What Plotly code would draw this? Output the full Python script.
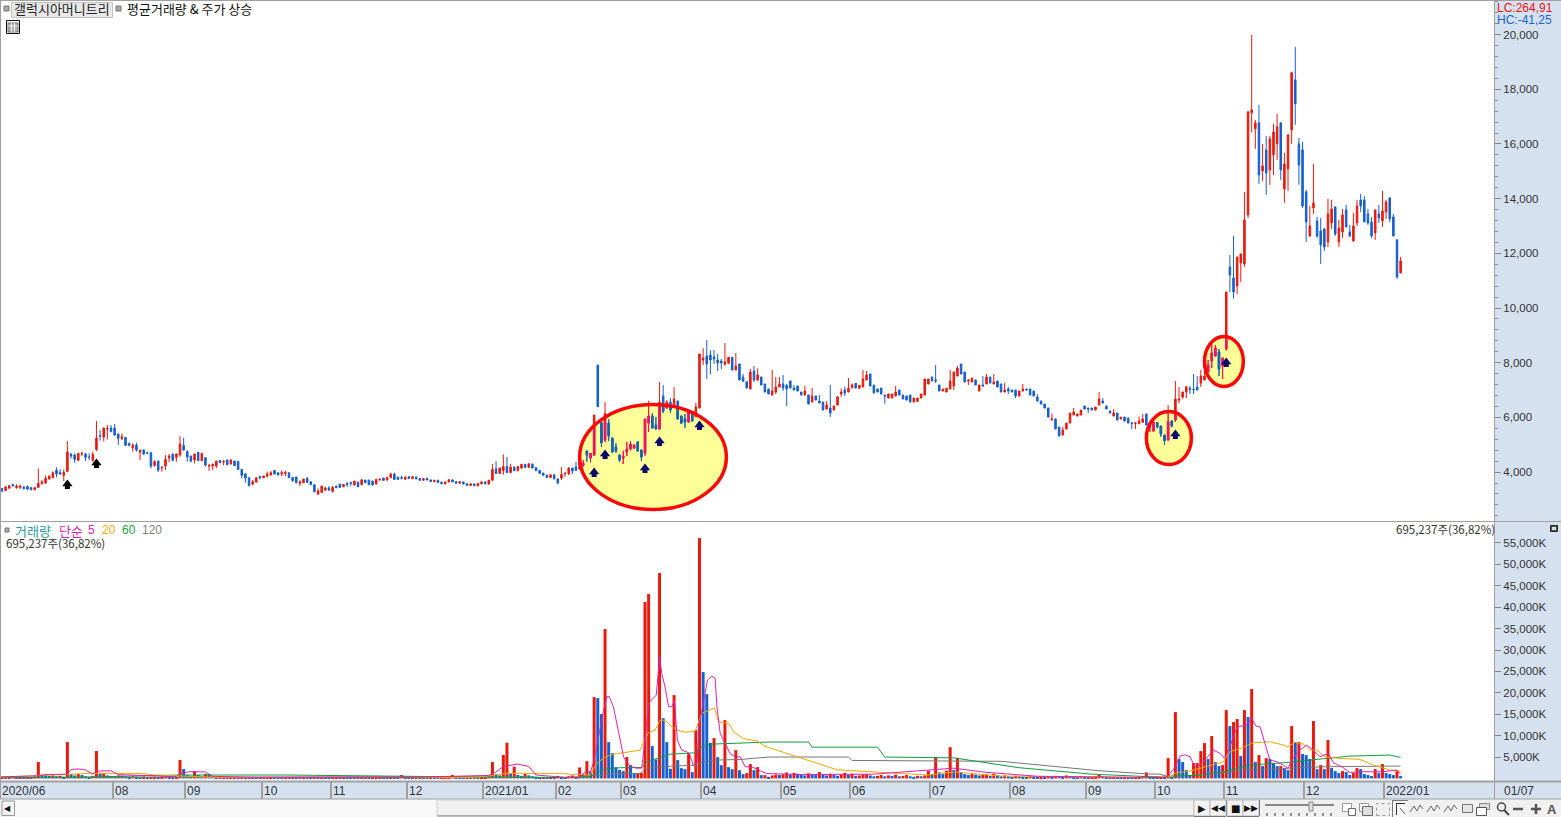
import math
import plotly.graph_objects as go

opens = [3400,3320,3415,3550,3430,3440,3460,3475,3430,3350,
3440,3585,3597,3744,3792,4073,3988,3878,4024,4659,
4622,4427,4659,4659,4549,4427,4829,5330,5281,5574,
5610,5610,5391,5220,5269,5049,4878,4988,4732,4805,
4707,4707,4244,4402,4146,4231,4512,4659,4537,4622,
4976,4744,4585,4439,4720,4415,4524,4219,4219,4219,
4427,4366,4439,4293,4402,4390,4097,3939,3792,3560,
3634,3841,3792,3853,3890,4061,3975,3927,3951,3975,
3805,3817,3585,3610,3780,3646,3536,3195,3256,3341,
3414,3292,3487,3560,3463,3585,3610,3524,3634,3536,
3707,3707,3670,3560,3707,3780,3707,3805,3927,3817,
3800,3740,3830,3760,3820,3760,3700,3770,3710,3650,
3700,3630,3570,3640,3710,3650,3590,3640,3570,3510,
3560,3500,3570,3640,3560,3700,4120,3950,4050,4200,
3980,4180,4050,4150,4280,4170,4290,4160,4060,3960,
3890,3800,3900,3750,3780,3940,3939,4146,4183,4110,
4256,4768,4512,4622,7916,5805,5171,5793,5244,4915,
4622,4512,4732,4842,4878,5098,4805,4695,5793,6049,
5720,5574,6781,6342,6562,6415,6598,6049,5940,5830,
6159,6025,6342,8099,8245,8282,8209,8099,8062,7953,
7977,8197,7733,7953,7477,7306,7038,7696,7367,
7477,7221,7038,6818,6928,7111,7221,7184,7330,7074,7147,
6928,6818,6818,6562,6781,6598,6562,6306,6342,6269,
6452,6855,7001,6928,7099,7245,7062,7111,7367,7587,
7184,7038,7074,6818,6708,6708,6781,7001,6818,6781,
6818,6562,6586,6708,6818,7221,7477,7367,7184,6964,
6928,7038,7147,7513,7953,7660,7330,7294,7367,6964,
7184,7221,7477,7221,7330,7221,6928,7038,7001,7001,
6781,6964,7038,7038,6964,6745,6598,6489,6342,5903,
5940,5647,5354,5574,5793,6086,6049,6086,6415,6342,
6342,6269,6452,6598,6415,6232,6049,6159,5940,6013,
5976,5800,5780,5769,5818,6123,5647,5500,5806,5683,
5354,5171,5866,5903,6635,6745,6928,7062,7038,7111,
7257,7367,7660,8062,8245,8392,7879,8502,
11503,11100,10807,11649,11613,13406,17139,16553,16773,15016,15785,15053,
15602,16005,16773,14358,15090,16517,18347,16005,15785,14248,
12637,13662,13186,12820,12894,12418,13113,13699,12418,12784,
13589,12784,12454,13113,13955,13955,13443,13150,12747,13443,
13186,13516,14028,13333,12491,11283]
highs = [3425,3460,3535,3560,3550,3535,3470,3510,3440,3440,
4135,3707,3878,3870,4024,4170,4110,4097,5134,4683,
4683,4690,4744,4707,4683,4744,5866,5537,5620,5720,
5720,5757,5400,5415,5280,5073,5049,5073,4805,4829,
4744,4720,4439,4410,4219,4622,4659,4670,4683,5317,
5256,4805,4600,4683,4730,4683,4535,4293,4317,4402,
4435,4439,4445,4476,4410,4395,4105,3945,3800,3707,
3792,3866,3853,4012,4036,4070,3985,4061,4049,3985,
3815,3825,3707,3744,3790,3655,3545,3402,3487,3463,
3487,3487,3495,3570,3548,3634,3658,3670,3640,3719,
3715,3712,3680,3731,3744,3790,3805,3975,3975,3825,
3870,3830,3840,3860,3830,3790,3770,3790,3730,3710,
3720,3650,3650,3730,3740,3670,3660,3650,3590,3580,
3580,3590,3650,3660,3710,4300,4400,4160,4650,4550,
4300,4200,4220,4300,4300,4320,4310,4180,4080,3980,
3900,3910,3920,3770,4183,4000,4183,4160,4366,4378,
4439,4780,4690,6086,7916,5830,6562,5940,5260,5049,
4630,4780,5098,5134,5025,5134,4815,5940,6611,6147,
6013,7294,7184,6635,6708,7111,6610,6060,6123,6196,
6170,6525,8319,8526,8831,8465,8465,8319,8136,8721,
8197,8205,8355,7960,7587,7315,7770,7879,7794,
7485,7230,7045,7733,7477,7477,7550,7195,7340,7184,7155,
6935,7147,6825,7074,6790,6818,6570,6598,7184,6425,
6781,7062,7123,7440,7240,7255,7180,7733,7696,7595,
7190,7045,7080,6825,6855,6860,7147,7010,6825,6790,
6825,6708,6708,6860,7404,7410,7485,7916,7190,7045,
7070,7733,7665,7879,7960,7665,7375,7445,7375,7190,
7513,7587,7485,7587,7340,7230,7257,7111,7010,7010,
6970,7221,7045,7045,6970,6855,6605,6495,6350,6147,
5950,5655,5659,5793,6159,6342,6123,6269,6425,6350,
6350,6379,6928,6708,6425,6240,6306,6165,6013,6020,
5985,5830,5830,6025,6123,6130,5720,5830,5830,5690,
5360,6452,5900,7330,7111,6928,7123,7147,7587,7513,
7733,7733,8099,8685,8648,8502,8180,10588,
11942,12637,11869,11979,14248,17176,19994,16883,17432,16005,16297,16297,
16737,17103,16780,15675,16334,18640,19555,16224,16078,14321,
13735,15273,13333,13296,12930,13992,13955,13705,13223,13626,
13772,13040,13479,13955,14175,14101,13626,13333,13595,13772,
14284,13955,14035,13443,12528,11869]
lows = [3280,3320,3375,3480,3390,3375,3365,3350,3350,3350,
3415,3535,3585,3730,3780,3805,3900,3670,4000,4488,
4341,4415,4585,4402,4439,4378,4768,5147,5122,5195,
5452,5330,4988,5171,4960,4951,4744,4744,4439,4622,
4659,4134,4195,4000,4012,4073,4366,4402,4378,4561,
4780,4378,4354,4317,4405,4405,4195,4049,4073,4146,
4335,4244,4260,4285,4225,4073,3768,3610,3495,3524,
3625,3731,3785,3805,3885,3920,3885,3853,3853,3768,
3646,3585,3487,3605,3615,3530,3275,3158,3250,3317,
3305,3256,3420,3432,3458,3463,3487,3520,3458,3530,
3605,3530,3520,3555,3700,3690,3683,3768,3707,3725,
3730,3720,3750,3740,3740,3680,3680,3700,3640,3630,
3610,3560,3550,3620,3630,3580,3570,3550,3500,3490,
3490,3480,3560,3550,3540,3680,3930,3930,3900,3960,
3960,4040,4030,4130,4160,4150,4140,4040,3940,3870,
3790,3780,3740,3550,3707,3829,3890,3927,4050,4100,
4195,4378,4354,4600,6391,4927,5098,5134,4720,4707,
4366,4293,4585,4793,4842,4760,4402,4598,5464,5600,
5565,5560,6159,6330,6159,6400,5930,5757,5610,5820,
5860,6015,6330,7916,7404,7587,7953,7696,7770,7879,
7970,7725,7725,7360,7310,7065,7030,7294,7330,
7175,6920,6850,6810,6855,7105,6964,6415,7065,6995,6955,
6810,6810,6480,6555,6628,6520,6260,6300,6013,6260,
6445,6757,6781,6920,7040,7065,7055,7105,7360,7140,
6885,6920,6850,6501,6700,6700,6775,6810,6665,6630,
6555,6555,6580,6700,6810,7215,7325,7257,6960,6955,
6920,7030,7001,7505,7580,7290,7184,7290,7180,6955,
7111,7215,7250,7215,7105,6920,6920,6855,6920,6708,
6775,6955,6995,6810,6775,6590,6480,6335,6005,5895,
5565,5310,5345,5565,5785,6080,6040,6080,6300,6159,
6260,6260,6445,6520,6300,6150,6040,5895,5935,5860,
5785,5574,5574,5760,5810,5715,5476,5495,5600,5293,
4988,5165,5640,5830,6513,6672,6708,6855,6855,6995,
7111,7360,7650,7806,8240,7513,7404,8450,
10588,10344,10515,10954,11503,13296,16419,15822,14541,14650,14138,14504,
14870,15419,14687,13845,14284,16005,16700,14504,13662,12418,
12601,13443,12564,11613,12088,12235,12894,12637,12235,12564,
12960,12601,12418,13003,13516,13145,13040,12564,12491,13113,
12967,13260,13150,12630,11064,11275]
closes = [3305,3460,3500,3490,3490,3490,3390,3375,3350,3430,
3585,3634,3768,3853,3975,3927,3927,3988,4732,4585,
4463,4683,4683,4537,4537,4646,5244,5305,5610,5598,
5488,5354,5232,5293,4976,4976,4988,4805,4805,4659,
4683,4219,4378,4073,4171,4463,4585,4427,4659,5025,
4805,4549,4402,4659,4415,4683,4256,4244,4280,4402,
4341,4390,4268,4439,4231,4097,3878,3780,3500,3646,
3792,3792,3853,3927,3975,3927,3890,3975,3988,3805,
3683,3610,3634,3744,3622,3536,3280,3305,3487,3414,
3341,3439,3426,3439,3548,3536,3585,3670,3463,3719,
3610,3536,3524,3731,3744,3695,3805,3927,3731,3731,
3770,3820,3760,3830,3750,3700,3760,3710,3650,3700,
3620,3570,3640,3720,3640,3590,3650,3560,3510,3570,
3500,3580,3640,3570,3700,4100,3950,4150,4200,3980,
4180,4050,4200,4280,4170,4300,4150,4050,3950,3880,
3800,3900,3750,3600,3914,3951,4146,4036,4061,4378,
4317,4622,4683,6086,6391,5073,6147,5317,4732,4768,
4439,4585,4842,5025,4976,4768,4549,5940,6049,5610,
5574,6562,6232,6562,6269,6671,5940,5793,5830,6196,
5866,6379,8319,8172,7953,8099,8136,7989,7989,8026,
8197,7733,7879,7367,7318,7074,7660,7367,7550,
7184,6928,6855,6964,7111,7221,7074,7038,7074,7001,6964,
6818,6964,6489,6781,6635,6525,6269,6452,6159,6415,
6745,6928,6891,7062,7184,7074,7172,7404,7550,7147,
6891,6928,6855,6781,6855,6855,6928,6818,6672,6635,
6562,6708,6708,6855,7404,7404,7330,7330,6964,7038,
7062,7330,7660,7806,7587,7294,7367,7440,7184,7184,
7147,7477,7257,7294,7111,6928,7001,6964,6928,6781,
6964,7038,7001,6818,6781,6598,6489,6342,6013,5940,
5574,5317,5537,5793,6159,6196,6123,6269,6306,6306,
6269,6379,6672,6525,6306,6159,6159,5903,6013,5866,
5793,5780,5800,5866,5940,5720,5720,5830,5647,5391,
5147,5842,5683,6672,6672,6928,7123,7013,7013,7001,
7513,7513,7916,8355,8538,7770,8172,10588,
11210,10588,11869,11979,13223,17176,17249,16773,14870,15199,14943,16188,
16444,16627,15053,15273,16334,18603,17469,15236,13735,13150,
13003,13845,12637,12308,12235,13443,13626,12711,12930,13406,
12967,12637,13003,13735,13735,13150,13113,12637,13589,13296,
13552,13882,13260,12637,11137,11722]

volumes = [450,300,400,500,350,450,300,400,350,500,
3830,900,790,600,700,500,600,400,8500,1030,
700,1030,800,500,400,600,6400,1180,1180,700,
600,500,700,650,500,400,500,400,350,450,
300,300,400,300,450,500,400,350,400,4300,
2190,800,600,1720,800,500,1030,1000,500,350,
400,300,350,250,300,200,250,200,300,250,
200,250,180,200,300,250,200,150,200,180,
250,200,150,200,180,150,200,180,250,200,
150,180,200,150,250,200,180,150,200,180,
200,150,180,200,250,200,150,200,180,150,
790,200,150,180,150,200,180,150,200,180,
150,180,200,250,790,200,180,150,200,180,
250,200,300,400,500,3830,1000,700,5460,8350,
1200,2740,800,600,1030,700,500,400,300,350,
250,300,250,600,400,300,500,700,400,2560,
920,4040,1550,18994,18760,15026,34890,8480,5910,2640,
2000,1700,5000,3100,1160,1160,1300,41200,43070,7550,
4430,47980,14090,8480,2250,19470,4280,2400,2170,5830,
1470,11280,56150,24840,19700,8320,9420,4970,3100,13620,
2640,2170,6610,1940,1000,1240,3340,1940,2640,770,
770,380,700,900,800,1000,1400,900,1300,1100,
800,700,1200,1000,800,1500,900,700,1100,800,
600,900,1300,800,1100,600,700,900,1000,700,
500,600,800,500,700,600,900,500,600,800,
500,400,600,500,700,1800,1000,5000,1400,1000,
1800,7300,2000,4800,1500,1000,800,1200,900,700,
800,900,600,1100,700,500,700,500,400,600,
500,400,300,500,400,300,400,300,500,400,
600,500,400,700,500,400,300,500,300,250,
300,400,800,500,400,300,350,300,250,300,
250,200,300,400,500,1400,400,300,250,300,
250,4750,240,15500,4520,3820,1950,790,3590,3590,
6390,8260,4520,9900,3820,2890,3120,15970,12230,13170,
13870,5220,15970,14340,20880,3820,5460,2890,4750,4520,
3590,2890,2890,2420,1950,12230,8500,8500,5690,5460,
4520,13400,2180,3120,2180,8960,2420,1720,1250,1720,
1480,790,1250,2420,2180,1020,790,550,2180,1250,
3350,1250,1020,790,1720,550]

ma5_i = [0,10,12,16,18,19,21,23,25,26,30,32,48,49,52,56,58,70,110,112,134,136,138,142,145,147,154,156,159,160.5,162,163,164.2,165.6,166.5,167.1,168.3,169.2,170.2,171.1,172.2,173.4,174.7,176.1,176.8,178,178.9,180.1,180.7,181,181.6,182.5,183.5,184.4,185.1,185.9,187.1,188.5,189.2,190.3,191.3,192,193.1,194.2,195.4,196.3,196.8,197.7,199.1,200.4,201.8,203.2,204.6,206.4,208.7,210.5,220,240,262,270,285,300,319.7,321,322.6,324.3,325.6,327,328.4,329.8,331.6,333.4,335.3,336.6,338,340,342.6,344,345.2,346.3,347.7,349,350.9,352.7,354,355.4,357.3,359.1,360.9,362.8,365.1,366.5,368.8,371,374.7,380.2,383.9,385]
ma5_v = [400,600,900,900,1000,2100,2200,2000,1000,1700,1800,900,400,1200,1600,1500,500,250,300,250,700,1500,2800,3360,2800,800,300,200,200,1550,1550,4280,9730,15960,19080,19230,16740,13230,9340,5050,3500,2720,2400,2400,7390,17520,18450,19470,25300,28580,24530,21410,16740,16740,18300,8950,6610,6220,5830,3100,3500,12840,17910,22970,23900,23360,16740,10510,8170,5830,5050,5050,2720,2720,1780,1160,900,1000,2400,1500,500,400,200,550,2340,5220,5530,5060,2730,3120,4680,6630,5850,4680,7400,12080,12470,14030,12230,12080,8180,4290,3900,3120,2340,4680,6630,7800,6630,5060,5850,3660,2730,1400,1560,1560,1950,1020]
ma20_i = [0,24,38,42,60,130,139,154,156,161.9,163.7,166,168.3,172.9,175.7,176.8,178,179.8,181.2,182.5,183.9,185.8,188,190.8,192.6,194.5,196.1,197.2,198.6,200,201.4,204.1,207.8,210,230,255,262,275,300,316,321.5,323.3,327,332.5,336.2,338,341.7,344.4,349,352.7,354,355.9,358.2,360,361.9,364.2,368.3,373.8,377.5,382,385]
ma20_v = [300,1180,1180,800,200,200,1180,1180,1000,800,3500,5000,5650,6200,6600,8900,10700,11300,13600,13600,12400,11300,10800,11000,15200,15900,16500,13300,13000,12900,10900,9300,8800,7500,2000,800,1500,560,400,200,550,1330,1720,3120,3900,6230,7250,8340,8570,7800,7400,8420,8030,6630,6630,5060,4680,4450,3120,1950,1720]
ma60_i = [0,20,49,78,140,156,161.9,164.2,167,170.2,176.1,177.5,180.3,183.9,190.8,192.6,195,202.3,211,222,223,241,243,262,280,300,316,321.5,329.8,336.2,343.5,352.7,363.7,371,382,385]
ma60_v = [250,250,800,800,250,200,400,1600,2300,2500,2550,3900,4660,5660,5990,7400,8000,8300,8500,8500,7300,7300,5000,4800,2500,1000,400,550,780,1560,3120,3660,4680,5220,5460,4910]
ma120_i = [0,86,98,140,156,164.6,168.3,175.7,177,183.9,190.8,193,195.9,203.2,211,233,234,275,302,316,318.8,321.5,334.3,341.7,352.7,363.7,385]
ma120_v = [150,400,400,300,200,770,1160,1160,2300,2840,3100,3900,4280,4430,5000,5000,4200,4000,1800,1020,1020,240,1170,1950,2340,2730,2890]

month_idx = [0,31,51,72,91,112,133,153,171,193,215,234,256,278,299,318,337,359,381]
month_txt = ["2020/06","08","09","10","11","12","2021/01","02","03","04","05","06","07","08","09","10","11","12","2022/01"]
arrow_black_i = [18,26]
arrow_black_p = [3707,4476]
arrow_navy_i = [163,166,177,181,192,323,337]
arrow_navy_p = [4146,4805,4293,5281,5867,5537,8172]
# highlighted zones: (centre index, index radius, centre price, price radius)
zones = [(179.2,20.2,4550,1920),(321.2,6.2,5245,970),(336.35,5.35,8045,915)]

RED, BLUE = "#ea190a", "#155fcf"
PINK, TEAL = "#e8186c", "#1666ae"
W, H = 1561, 817
def yd(p): return 1 - p / H
idx = list(range(len(opens)))

# the part of each candle lying inside a zone gets the tinted colours
ti, to, th, tl, tc = [], [], [], [], []
for i, o, h, l, c in zip(idx, opens, highs, lows, closes):
    for ci, ri, cp, rp in zones:
        if abs(i - ci) < ri:
            d = rp * math.sqrt(1 - ((i - ci) / ri) ** 2)
            lo, hi = cp - d, cp + d
            h2, l2 = min(h, hi), max(l, lo)
            if h2 > l2:
                ti.append(i); th.append(h2); tl.append(l2)
                to.append(min(max(o, l2), h2)); tc.append(min(max(c, l2), h2))

def candle(x, o, h, l, c, up, down):
    return go.Candlestick(x=x, open=o, high=h, low=l, close=c,
        increasing=dict(line=dict(color=up, width=1), fillcolor=up),
        decreasing=dict(line=dict(color=down, width=1), fillcolor=down),
        whiskerwidth=0, xaxis="x", yaxis="y", showlegend=False, hoverinfo="skip")

fig = go.Figure()
fig.add_trace(candle(idx, opens, highs, lows, closes, RED, BLUE))
fig.add_trace(candle(ti, to, th, tl, tc, PINK, TEAL))
for xs, ps, col in [(arrow_black_i, arrow_black_p, "black"), (arrow_navy_i, arrow_navy_p, "#0a0a6e")]:
    fig.add_trace(go.Scatter(x=xs, y=[p - 238 for p in ps], mode="markers", xaxis="x", yaxis="y",
        marker=dict(symbol="square", size=5, color=col, line_width=0), showlegend=False))
    fig.add_trace(go.Scatter(x=xs, y=[p - 146 for p in ps], mode="markers", xaxis="x", yaxis="y",
        marker=dict(symbol="triangle-up", size=9, color=col, line_width=0), showlegend=False))

vol_colors = [RED if k == 0 or volumes[k] >= volumes[k - 1] else BLUE for k in range(len(volumes))]
fig.add_trace(go.Bar(x=list(range(len(volumes))), y=volumes, marker=dict(color=vol_colors, line_width=0),
    xaxis="x2", yaxis="y2", showlegend=False))
for xs, ys, col in [(ma120_i, ma120_v, "#777777"), (ma60_i, ma60_v, "#109c3c"), (ma20_i, ma20_v, "#f0a800"), (ma5_i, ma5_v, "#e020b0")]:
    fig.add_trace(go.Scatter(x=xs, y=ys, mode="lines", line=dict(color=col, width=1), xaxis="x2", yaxis="y2", showlegend=False))

xr = [-0.55, 410.7]
shapes, annots = [], []
for ci, ri, cp, rp in zones:
    shapes.append(dict(type="circle", xref="x", yref="y", x0=ci-ri, x1=ci+ri, y0=cp-rp, y1=cp+rp, layer="below", fillcolor="#ffff99", line_width=0))
    shapes.append(dict(type="circle", xref="x", yref="y", x0=ci-ri, x1=ci+ri, y0=cp-rp, y1=cp+rp, layer="above", line=dict(color="#f80808", width=3.5)))

def px(x): return x / W
def py(y): return 1 - y / H
def rect(x0, y0, x1, y1, fill=None, line=None, lw=1):
    shapes.append(dict(type="rect", xref="paper", yref="paper", x0=px(x0), x1=px(x1), y0=py(y1), y1=py(y0),
        fillcolor=fill or "rgba(0,0,0,0)", line=dict(color=line or "rgba(0,0,0,0)", width=lw if line else 0), layer="above"))
def seg(x0, y0, x1, y1, col="#999999", lw=1):
    shapes.append(dict(type="line", xref="paper", yref="paper", x0=px(x0), x1=px(x1), y0=py(y0), y1=py(y1), line=dict(color=col, width=lw), layer="above"))
def text(x, y, t, col="#333333", size=12, anchor="left", fam="Noto Sans CJK KR, Liberation Sans", bold=False):
    annots.append(dict(xref="paper", yref="paper", x=px(x), y=py(y), text=f"<b>{t}</b>" if bold else t, showarrow=False, xanchor=anchor, yanchor="middle",
        font=dict(color=col, size=size, family=fam), borderpad=0))

# frame
seg(0, 0.5, 1561, 0.5, "#a0a0a0", 1); seg(0.5, 0, 0.5, 800, "#a0a0a0", 1)
seg(0, 521.5, 1561, 521.5, "#a0a0a0", 1); seg(0, 781.5, 1561, 781.5, "#a0a0a0", 2)
seg(1494.5, 0, 1494.5, 799, "#a0a0a0", 1)
rect(0, 799, 1561, 817, "#f0f0f0"); seg(0, 799, 1561, 799, "#a0a0a0", 1)

# header
rect(4, 6, 9, 11, "#a8a8a8", "#777777"); rect(116, 6, 121, 11, "#a8a8a8", "#777777")
rect(11.5, 2.5, 112.5, 17.5, "#e8e8e8", "#c0c0c0")
text(13, 9, "갤럭시아머니트리", "#222222", 13)
text(126, 9, "평균거래량 &amp; 주가 상승", "#111111", 13)
rect(6.5, 20.5, 19.5, 33.5, "#ffffff", "#111111")
rect(8, 23, 18, 32, "#b0b0b0", "#777777"); seg(11.5, 23, 11.5, 32, "#eeeeee"); seg(14.5, 23, 14.5, 32, "#eeeeee"); seg(8, 26, 18, 26, "#eeeeee")
text(1496, 8, "LC:264,91", "#ee1111", 12, fam="Liberation Sans")
text(1496, 20, "HC:-41,25", "#1565d0", 12, fam="Liberation Sans")

# volume header
rect(5, 528, 9, 532, "#a8a8a8", "#777777")
text(14, 530, "거래량", "#2a9a9a", 13)
text(58, 530, "단순", "#e01fb0", 13)
text(87, 530, "5", "#e01fb0", 12, fam="Liberation Sans")
text(101, 530, "20", "#f2ae0a", 12, fam="Liberation Sans")
text(121, 530, "60", "#18a040", 12, fam="Liberation Sans")
text(141, 530, "120", "#808080", 12, fam="Liberation Sans")
text(5, 543, "695,237주(36,82%)", "#333333", 11.5)
text(1496, 529, "695,237주(36,82%)", "#333333", 11.5, anchor="right")
rect(1550.5, 525.5, 1557.5, 531.5, "#555555", "#222222"); rect(1552, 527, 1556, 530, "#dddddd")

# time axis
for m, t in zip(month_idx, month_txt):
    annots.append(dict(xref="x2", yref="paper", x=m - 0.5, y=py(790.5), text=t, showarrow=False, xanchor="left", yanchor="middle", xshift=1,
        font=dict(color="#333333", size=12, family="Liberation Sans"), borderpad=0))
text(1503, 790.5, "01/07", "#333333", 12, fam="Liberation Sans")

# bottom toolbar
rect(2, 801, 14.5, 815.5, "#f2f2f2", "#999999")
text(8, 808, "◀", "#111111", 8, anchor="center", fam="DejaVu Sans")
rect(15, 800, 437, 817, "#f8f8f8")
rect(437, 800, 1194, 815.5, "#f0f0f0", "#cfcfcf"); seg(437, 816, 1194, 816, "#888888", 1)
for x0, glyph in [(1194, "▶"), (1210, "◀◀"), (1227, "■"), (1243, "▶▶")]:
    rect(x0, 800, x0 + 16, 816, "#f2f2f2", "#bbbbbb")
    seg(x0, 816.5, x0 + 16, 816.5, "#777777", 1); seg(x0 + 16.5, 800, x0 + 16.5, 816, "#777777", 1)
    text(x0 + 8, 808, glyph, "#111111", 9 if len(glyph) > 1 else 10, anchor="center", fam="DejaVu Sans")
seg(1265, 805, 1334, 805, "#888888", 2)
rect(1309, 802, 1313, 811, "#dddddd", "#888888")
for k in range(9):
    seg(1267 + k * 8, 813, 1267 + k * 8, 816, "#333333", 1)
rect(1342.5, 803.5, 1351.5, 811.5, "#ffffff", "#999999"); rect(1348.5, 808.5, 1355.5, 815.5, "#ffffff", "#666666")
rect(1359.5, 803.5, 1368.5, 811.5, "#ffffff", "#999999"); rect(1362.5, 806.5, 1372.5, 815.5, "#dddddd", "#666666")
shapes.append(dict(type="rect", xref="paper", yref="paper", x0=px(1376.5), x1=px(1389.5), y0=py(815.5), y1=py(803.5), line=dict(color="#999999", width=1, dash="dot"), layer="above"))
rect(1392, 800, 1408, 817, "#f8f8f8"); seg(1392, 800.5, 1408, 800.5, "#777777"); seg(1392.5, 800, 1392.5, 817, "#777777")
seg(1396, 803.5, 1405, 803.5, "#333333", 1); seg(1396.5, 803, 1396.5, 815, "#333333", 1); seg(1400, 808, 1405, 814, "#555555", 1)
for x0 in [1410, 1427, 1444]:
    shapes.append(dict(type="path", xref="paper", yref="paper", layer="above", line=dict(color="#666666", width=1),
        path=f"M {px(x0)} {py(812)} L {px(x0+4)} {py(806)} L {px(x0+7)} {py(811)} L {px(x0+10)} {py(805)} L {px(x0+13)} {py(809)}"))
rect(1462.5, 804.5, 1472.5, 812.5, "#e4e4e4", "#777777"); rect(1479.5, 803.5, 1489.5, 809.5, "#dddddd", "#888888"); rect(1476.5, 807.5, 1486.5, 815.5, "#ffffff", "#555555")
shapes.append(dict(type="circle", xref="paper", yref="paper", x0=px(1497.5), x1=px(1505.5), y0=py(811), y1=py(803), line=dict(color="#444444", width=1.5), layer="above"))
seg(1504, 810, 1509, 815, "#444444", 2)
seg(1513, 809, 1523, 809, "#555555", 2.5)
seg(1531, 809, 1541, 809, "#555555", 2.5); seg(1536, 804, 1536, 814, "#555555", 2.5)
text(1552, 809, "A", "#555555", 13, anchor="center", fam="Liberation Sans", bold=True)

fig.update_layout(width=W, height=H, margin=dict(l=0, r=0, t=0, b=0), paper_bgcolor="#d6e1ef", plot_bgcolor="white",
    bargap=0.18, boxgap=0.4, showlegend=False, hovermode=False, shapes=shapes, annotations=annots,
    font=dict(family="Liberation Sans", size=12, color="#333333"),
    xaxis=dict(domain=[0, 1494/W], range=xr, showgrid=False, zeroline=False, showticklabels=False, rangeslider=dict(visible=False), anchor="y"),
    xaxis2=dict(domain=[0, 1494/W], range=xr, showgrid=False, zeroline=False, showticklabels=False, anchor="y2",
        tickvals=[m - 0.5 for m in month_idx[1:]], ticks="outside", ticklen=18, tickwidth=2, tickcolor="#a0a0a0"),
    yaxis=dict(domain=[yd(521), yd(1)], side="right", range=[2210, 21230], tickvals=list(range(4000, 20001, 2000)), tickformat=",",
        showgrid=False, zeroline=False, ticks="outside", ticklen=6, tickcolor="#888888", tickfont=dict(size=11.5),
        minor=dict(dtick=400, ticks="outside", ticklen=3, tickcolor="#888888")),
    yaxis2=dict(domain=[yd(781), yd(522)], side="right", range=[-600, 59900], tickvals=list(range(5000, 55001, 5000)),
        ticktext=[f"{v:,}K" for v in range(5000, 55001, 5000)],
        showgrid=False, zeroline=False, ticks="outside", ticklen=6, tickcolor="#888888", tickfont=dict(size=11.5)))
fig.write_html("out.html", config=dict(displayModeBar=False), post_script="document.body.style.margin=0;document.body.style.overflow='hidden';")
